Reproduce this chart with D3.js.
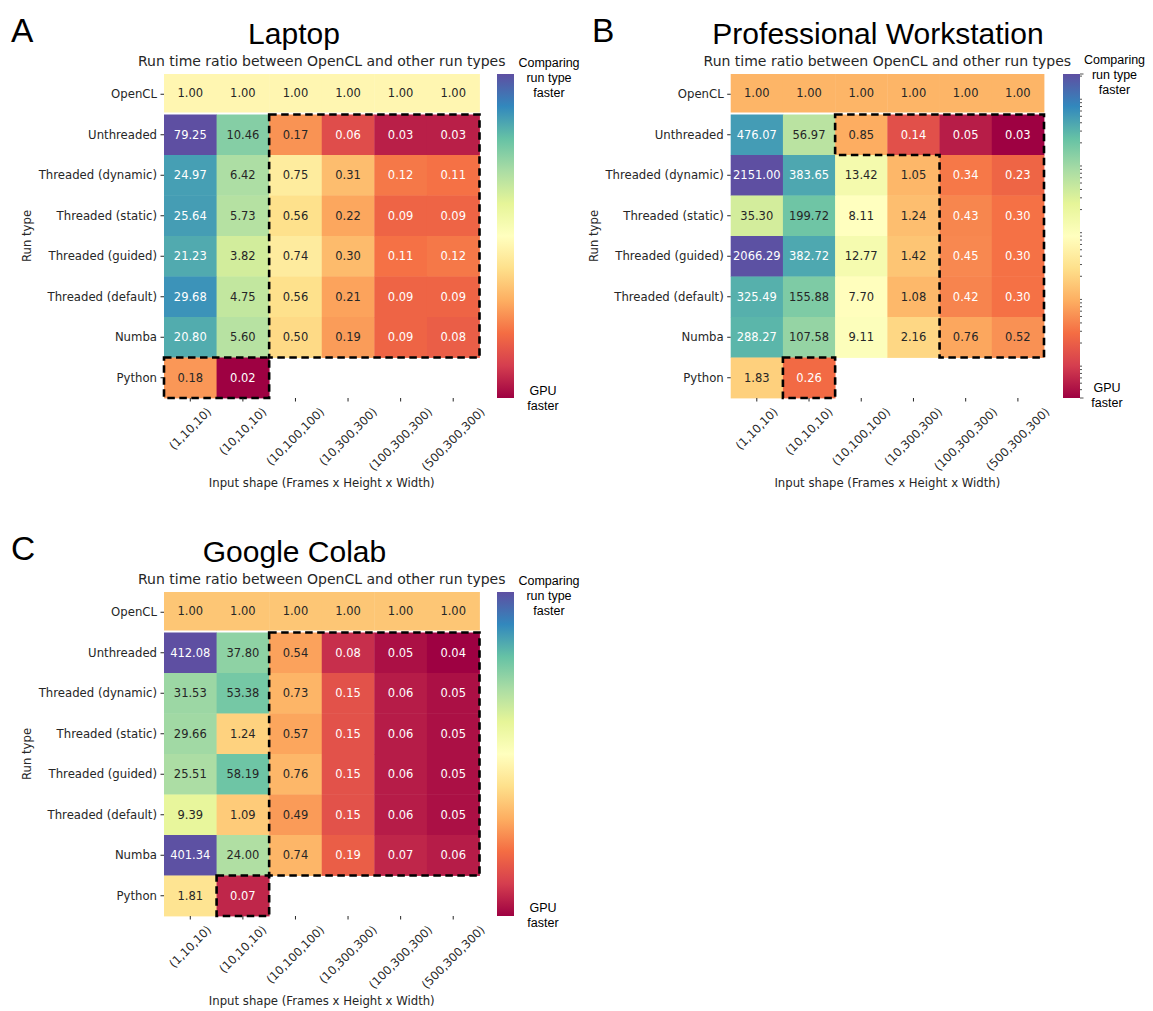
<!DOCTYPE html>
<html>
<head>
<meta charset="utf-8">
<script src="https://cdn.jsdelivr.net/npm/d3@7"></script>
<style>
  body { margin: 0; background: #fff; }
  svg { display: block; }
</style>
</head>
<body>
<svg id="fig" width="1153" height="1011"></svg>
<script>
// ---- data -------------------------------------------------------------
const runTypes = ["OpenCL", "Unthreaded", "Threaded (dynamic)", "Threaded (static)",
                  "Threaded (guided)", "Threaded (default)", "Numba", "Python"];
const inputShapes = ["(1,10,10)", "(10,10,10)", "(10,100,100)", "(10,300,300)",
                     "(100,300,300)", "(500,300,300)"];

// run time ratio, one row per run type, one column per input shape (null = not run)
const laptopRatios = [
  [1.00, 1.00, 1.00, 1.00, 1.00, 1.00],
  [79.25, 10.46, 0.17, 0.06, 0.03, 0.03],
  [24.97, 6.42, 0.75, 0.31, 0.12, 0.11],
  [25.64, 5.73, 0.56, 0.22, 0.09, 0.09],
  [21.23, 3.82, 0.74, 0.30, 0.11, 0.12],
  [29.68, 4.75, 0.56, 0.21, 0.09, 0.09],
  [20.80, 5.60, 0.50, 0.19, 0.09, 0.08],
  [0.18, 0.02, null, null, null, null]
];
const workstationRatios = [
  [1.00, 1.00, 1.00, 1.00, 1.00, 1.00],
  [476.07, 56.97, 0.85, 0.14, 0.05, 0.03],
  [2151.00, 383.65, 13.42, 1.05, 0.34, 0.23],
  [35.30, 199.72, 8.11, 1.24, 0.43, 0.30],
  [2066.29, 382.72, 12.77, 1.42, 0.45, 0.30],
  [325.49, 155.88, 7.70, 1.08, 0.42, 0.30],
  [288.27, 107.58, 9.11, 2.16, 0.76, 0.52],
  [1.83, 0.26, null, null, null, null]
];
const colabRatios = [
  [1.00, 1.00, 1.00, 1.00, 1.00, 1.00],
  [412.08, 37.80, 0.54, 0.08, 0.05, 0.04],
  [31.53, 53.38, 0.73, 0.15, 0.06, 0.05],
  [29.66, 1.24, 0.57, 0.15, 0.06, 0.05],
  [25.51, 58.19, 0.76, 0.15, 0.06, 0.05],
  [9.39, 1.09, 0.49, 0.15, 0.06, 0.05],
  [401.34, 24.00, 0.74, 0.19, 0.07, 0.06],
  [1.81, 0.07, null, null, null, null]
];

// cells where the GPU wins: each group is a union of [rowFrom,rowTo,colFrom,colTo] blocks
const laptopGpuCells = [ [[1, 6, 2, 5]], [[7, 7, 0, 1]] ];
const workstationGpuCells = [ [[1, 1, 2, 5], [2, 6, 4, 5]], [[7, 7, 1, 1]] ];
const colabGpuCells = [ [[1, 6, 2, 5]], [[7, 7, 1, 1]] ];

const subtitle = "Run time ratio between OpenCL and other run types";
const xAxisLabel = "Input shape (Frames x Height x Width)";
const yAxisLabel = "Run type";
const cbarTopLabel = ["Comparing", "run type", "faster"];
const cbarBottomLabel = ["GPU", "faster"];

// ---- colour map (Spectral, 11 anchors, linear in between) -------------
const spectralAnchors = ["#9e0142", "#d53e4f", "#f46d43", "#fdae61", "#fee08b", "#ffffbf",
                         "#e6f598", "#abdda4", "#66c2a5", "#3288bd", "#5e4fa2"];
const spectral = d3.scaleLinear()
  .domain(d3.range(11).map(i => i / 10))
  .range(spectralAnchors)
  .interpolate(d3.interpolateRgb)
  .clamp(true);

function relLuminance(c) {
  const rgb = d3.rgb(c);
  const lin = v => { v /= 255; return v <= 0.03928 ? v / 12.92 : Math.pow((v + 0.055) / 1.055, 2.4); };
  return 0.2126 * lin(rgb.r) + 0.7152 * lin(rgb.g) + 0.0722 * lin(rgb.b);
}

const TICK_FONT = "'DejaVu Sans', sans-serif";
const TITLE_FONT = "'Liberation Sans', Arial, sans-serif";
const INK = "#262626";

const svg = d3.select("#fig");

// ---- outline of a union of cells --------------------------------------
function outlinePath(blocks, xScale, yScale) {
  const set = new Set();
  blocks.forEach(([r0, r1, c0, c1]) => {
    for (let r = r0; r <= r1; r++) for (let c = c0; c <= c1; c++) set.add(r + "," + c);
  });
  const has = (r, c) => set.has(r + "," + c);
  const edges = [];
  set.forEach(key => {
    const [r, c] = key.split(",").map(Number);
    if (!has(r - 1, c)) edges.push([[c, r], [c + 1, r]]);
    if (!has(r, c + 1)) edges.push([[c + 1, r], [c + 1, r + 1]]);
    if (!has(r + 1, c)) edges.push([[c + 1, r + 1], [c, r + 1]]);
    if (!has(r, c - 1)) edges.push([[c, r + 1], [c, r]]);
  });
  const byStart = new Map(edges.map(e => [e[0].join(","), e]));
  const start = edges[0];
  const pts = [start[0]];
  let cur = start;
  do {
    pts.push(cur[1]);
    cur = byStart.get(cur[1].join(","));
  } while (cur && cur !== start);
  // drop collinear corners
  const corners = pts.slice(0, -1).filter((p, i, arr) => {
    const a = arr[(i - 1 + arr.length) % arr.length], b = arr[(i + 1) % arr.length];
    return !((a[0] === p[0] && p[0] === b[0]) || (a[1] === p[1] && p[1] === b[1]));
  });
  const xAt = c => xScale.range()[0] + c * xScale.step();
  const yAt = r => yScale.range()[0] + r * yScale.step();
  return "M" + corners.map(p => xAt(p[0]) + "," + yAt(p[1])).join("L") + "Z";
}

// ---- one heatmap panel -------------------------------------------------
function drawPanel(cfg) {
  const g = svg.append("g");
  const flat = cfg.values.flat().filter(v => v != null);
  const vmin = d3.min(flat), vmax = d3.max(flat);
  const norm = d3.scaleLog().domain([vmin, vmax]).range([0, 1]);
  const colour = v => spectral(norm(v));

  const x = d3.scaleBand().domain(inputShapes).range([cfg.left, cfg.left + cfg.width]).padding(0);
  const y = d3.scaleBand().domain(runTypes).range([cfg.top, cfg.top + cfg.height]).padding(0);
  const bottom = cfg.top + cfg.height;

  // panel letter + titles
  g.append("text").attr("x", cfg.letterX).attr("y", cfg.top - 32)
    .attr("font-family", TITLE_FONT).attr("font-size", 33.5).attr("fill", "#000").text(cfg.letter);
  g.append("text").attr("x", cfg.titleX).attr("y", cfg.top - 30).attr("text-anchor", "middle")
    .attr("font-family", TITLE_FONT).attr("font-size", 30).attr("fill", "#000").text(cfg.title);
  g.append("text").attr("x", cfg.left + cfg.width / 2).attr("y", cfg.top - 8).attr("text-anchor", "middle")
    .attr("font-family", TICK_FONT).attr("font-size", 14).attr("fill", INK).text(subtitle);

  // cells
  const cells = [];
  cfg.values.forEach((row, ri) => row.forEach((v, ci) => {
    if (v != null) cells.push({ row: runTypes[ri], col: inputShapes[ci], ri, v });
  }));
  g.append("g").selectAll("rect").data(cells).join("rect")
    .attr("x", d => x(d.col))
    .attr("y", d => y(d.row))
    .attr("width", x.bandwidth() + 0.4)
    .attr("height", d => d.ri === 0 ? y.bandwidth() - 2 : y.bandwidth() + 0.4)
    .attr("fill", d => colour(d.v));
  g.append("g").selectAll("text").data(cells).join("text")
    .attr("x", d => x(d.col) + x.bandwidth() / 2)
    .attr("y", d => y(d.row) + (d.ri === 0 ? (y.bandwidth() - 2) / 2 : y.bandwidth() / 2))
    .attr("dy", "0.36em")
    .attr("text-anchor", "middle")
    .attr("font-family", TICK_FONT).attr("font-size", 11.5)
    .attr("fill", d => relLuminance(colour(d.v)) > 0.408 ? INK : "#ffffff")
    .text(d => d.v.toFixed(2));

  // dashed GPU-faster outlines
  g.append("g").selectAll("path").data(cfg.boxes).join("path")
    .attr("d", blocks => outlinePath(blocks, x, y))
    .attr("fill", "none").attr("stroke", "#000").attr("stroke-width", 2.6)
    .attr("stroke-dasharray", "7.5,4.5");

  // y axis
  const yAxis = g.append("g").attr("transform", `translate(${cfg.left},0)`)
    .call(d3.axisLeft(y).tickSize(3.5).tickPadding(3.5));
  yAxis.select(".domain").remove();
  yAxis.selectAll("line").attr("stroke", INK);
  yAxis.selectAll("text").attr("font-family", TICK_FONT).attr("font-size", 11.7).attr("fill", INK);

  // x axis with 45 degree labels
  const xAxis = g.append("g").attr("transform", `translate(0,${bottom})`)
    .call(d3.axisBottom(x).tickSize(3.5).tickFormat(""));
  xAxis.select(".domain").remove();
  xAxis.selectAll("line").attr("stroke", INK);
  const labelTop = bottom + 7;
  g.append("g").selectAll("text").data(inputShapes).join("text")
    .attr("text-anchor", "middle").attr("dy", "0.33em")
    .attr("font-family", TICK_FONT).attr("font-size", 11.7).attr("fill", INK)
    .text(d => d)
    .each(function (d) {
      const w = this.getComputedTextLength();
      const h = 13.6;
      const cy = labelTop + (w + h) * Math.SQRT1_2 / 2;
      const cx = x(d) + x.bandwidth() / 2;
      d3.select(this).attr("transform", `translate(${cx},${cy}) rotate(-45)`);
    });

  g.append("text").attr("x", cfg.left + cfg.width / 2).attr("y", bottom + 89)
    .attr("text-anchor", "middle").attr("font-family", TICK_FONT).attr("font-size", 11.7)
    .attr("fill", INK).text(xAxisLabel);
  g.append("text")
    .attr("transform", `translate(${cfg.left - 137},${cfg.top + cfg.height / 2}) rotate(-90)`)
    .attr("dy", "0.35em")
    .attr("text-anchor", "middle").attr("font-family", TICK_FONT).attr("font-size", 11.7)
    .attr("fill", INK).text(yAxisLabel);

  // colour bar
  const gradId = "cbar-" + cfg.letter;
  const grad = svg.append("defs").append("linearGradient").attr("id", gradId)
    .attr("x1", 0).attr("y1", 1).attr("x2", 0).attr("y2", 0);
  grad.selectAll("stop").data(spectralAnchors).join("stop")
    .attr("offset", (d, i) => i / 10).attr("stop-color", d => d);
  const cbW = 17;
  g.append("rect").attr("x", cfg.cbX).attr("y", cfg.top).attr("width", cbW).attr("height", cfg.height)
    .attr("fill", `url(#${gradId})`);
  const cbScale = d3.scaleLog().domain([vmin, vmax]).range([bottom, cfg.top]);
  if (cfg.minorTicks) {
    const minor = [];
    for (let k = -3; k <= 4; k++) for (let m = 2; m <= 9; m++) {
      const v = m * Math.pow(10, k);
      if (v > vmin && v < vmax) minor.push(v);
    }
    g.append("g").selectAll("line").data(minor).join("line")
      .attr("x1", cfg.cbX + cbW).attr("x2", cfg.cbX + cbW + 2)
      .attr("y1", d => cbScale(d)).attr("y2", d => cbScale(d))
      .attr("stroke", INK).attr("stroke-width", 0.8);
    g.append("g").selectAll("line").data([vmin, vmax]).join("line")
      .attr("x1", cfg.cbX + cbW).attr("x2", cfg.cbX + cbW + 3.5)
      .attr("y1", d => cbScale(d)).attr("y2", d => cbScale(d))
      .attr("stroke", INK).attr("stroke-width", 0.8);
  }
  const topLbl = g.append("text").attr("text-anchor", "middle")
    .attr("font-family", TITLE_FONT).attr("font-size", 12.5).attr("fill", "#000");
  cbarTopLabel.forEach((line, i) => topLbl.append("tspan").attr("x", cfg.cbTopX)
    .attr("y", cbScale(vmax) + cfg.cbTopDy + (i - 1) * 15 + 4.5).text(line));
  const botLbl = g.append("text").attr("text-anchor", "middle")
    .attr("font-family", TITLE_FONT).attr("font-size", 12.5).attr("fill", "#000");
  cbarBottomLabel.forEach((line, i) => botLbl.append("tspan").attr("x", cfg.cbBotX)
    .attr("y", cbScale(vmin) + cfg.cbBotDy + (i - 0.5) * 15 + 4.5).text(line));
}

drawPanel({ letter: "A", title: "Laptop", values: laptopRatios, boxes: laptopGpuCells,
  left: 164, top: 74, width: 315.5, height: 324, letterX: 11, titleX: 294,
  cbX: 497, cbTopX: 549, cbBotX: 543, cbTopDy: 3, cbBotDy: 0, minorTicks: false });
drawPanel({ letter: "B", title: "Professional Workstation", values: workstationRatios, boxes: workstationGpuCells,
  left: 730.7, top: 74, width: 313.3, height: 324, letterX: 592, titleX: 878,
  cbX: 1063, cbTopX: 1114.5, cbBotX: 1107, cbTopDy: 0, cbBotDy: -3, minorTicks: true });
drawPanel({ letter: "C", title: "Google Colab", values: colabRatios, boxes: colabGpuCells,
  left: 164, top: 592, width: 315.5, height: 324, letterX: 11, titleX: 294.5,
  cbX: 497, cbTopX: 549, cbBotX: 543, cbTopDy: 3, cbBotDy: -1, minorTicks: false });
</script>
</body>
</html>
